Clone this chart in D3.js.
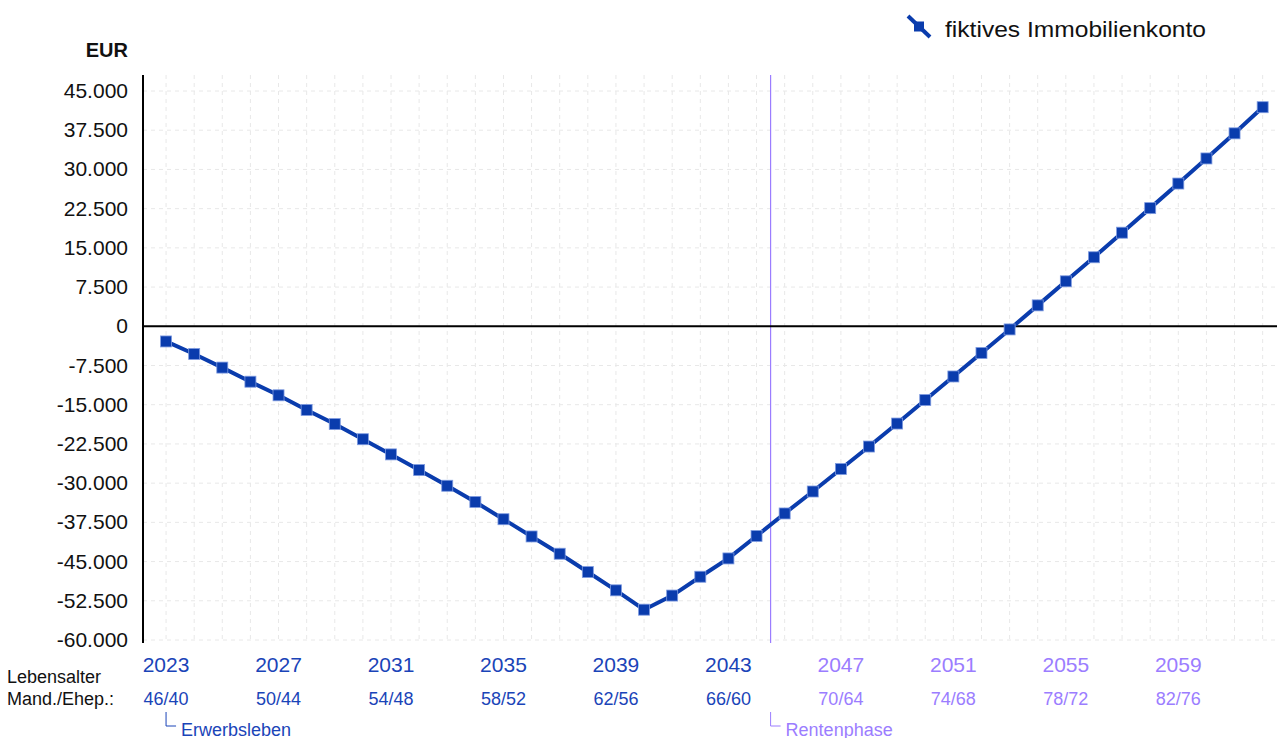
<!DOCTYPE html>
<html>
<head>
<meta charset="utf-8">
<script src="https://cdn.jsdelivr.net/npm/d3@7"></script>
<style>
  body { margin: 0; background: #fff; }
  svg text { font-family: "Liberation Sans", Arial, sans-serif; }
</style>
</head>
<body>
<svg id="chart" width="1277" height="738"></svg>
<script>
// years shown on the x axis
var years = d3.range(2023, 2063);

// fiktives Immobilienkonto, EUR per year
var kontoValues = [
    -2900, -5300, -7900, -10600, -13200, -16000, -18700, -21600, -24500, -27500,
    -30500, -33600, -36900, -40200, -43500, -47000, -50500, -54200, -51500, -47900,
    -44400, -40100, -35800, -31600, -27300, -23000, -18600, -14100, -9600, -5100,
    -600, 4000, 8600, 13200, 17900, 22600, 27300, 32100, 36900, 41900
];

// labelled years and ages (Mandant / Ehepartner)
var tickYears = [2023, 2027, 2031, 2035, 2039, 2043, 2047, 2051, 2055, 2059];
var ageLabels = ["46/40", "50/44", "54/48", "58/52", "62/56", "66/60", "70/64", "74/68", "78/72", "82/76"];

var yTicks = [45000, 37500, 30000, 22500, 15000, 7500, 0, -7500, -15000, -22500,
              -30000, -37500, -45000, -52500, -60000];

var retirementYear = 2044.5;

/***** Configuration *****/
var lineColor = "#0a3cad";
var blueText = "#1a44b8";
var purple = "#9b7dff";

var svg = d3.select("#chart");

/***** Scales *****/
var x = d3.scaleLinear().domain([2022.18, 2062.51]).range([143, 1277]);
var y = d3.scaleLinear().domain([-60000, 45000]).range([640, 91]);

// German thousands separator
function fmtThousands(v) {
    var a = Math.abs(v);
    var s = a >= 1000 ? Math.floor(a / 1000) + "." + d3.format("03d")(a % 1000) : String(a);
    return (v < 0 ? "-" : "") + s;
}

/***** Grid *****/
var grid = svg.append("g").attr("class", "grid");
grid.selectAll("line.h")
    .data(yTicks)
    .join("line")
    .attr("x1", 143).attr("x2", 1277)
    .attr("y1", d => y(d)).attr("y2", d => y(d))
    .attr("stroke", "#e8e8e8").attr("stroke-width", 1)
    .attr("stroke-dasharray", "4,4");
grid.selectAll("line.v")
    .data(years)
    .join("line")
    .attr("x1", d => x(d)).attr("x2", d => x(d))
    .attr("y1", 75).attr("y2", 643)
    .attr("stroke", "#e8e8e8").attr("stroke-width", 1)
    .attr("stroke-dasharray", "4,4");

/***** Y axis *****/
svg.selectAll("text.ytick")
    .data(yTicks)
    .join("text")
    .attr("class", "ytick")
    .attr("x", 128)
    .attr("y", d => y(d) + 7)
    .attr("text-anchor", "end")
    .attr("font-size", 21)
    .attr("fill", "#111")
    .text(d => d === 0 ? "0" : fmtThousands(d));

svg.append("text")
    .attr("x", 128).attr("y", 57)
    .attr("text-anchor", "end")
    .attr("font-size", 20).attr("font-weight", "bold")
    .attr("fill", "#111")
    .text("EUR");

// retirement marker line
svg.append("line")
    .attr("x1", x(retirementYear)).attr("x2", x(retirementYear))
    .attr("y1", 75).attr("y2", 643)
    .attr("stroke", purple).attr("stroke-width", 1.2);

// zero line and left axis
svg.append("line")
    .attr("x1", 143).attr("x2", 1277)
    .attr("y1", y(0)).attr("y2", y(0))
    .attr("stroke", "#000").attr("stroke-width", 2);
svg.append("line")
    .attr("x1", 143).attr("x2", 143)
    .attr("y1", 75).attr("y2", 643)
    .attr("stroke", "#000").attr("stroke-width", 2);

/***** Series *****/
var data = years.map((yr, i) => ({year: yr, value: kontoValues[i]}));
var line = d3.line().x(d => x(d.year)).y(d => y(d.value));

svg.append("path")
    .datum(data)
    .attr("d", line)
    .attr("fill", "none")
    .attr("stroke", lineColor)
    .attr("stroke-width", 4);

svg.selectAll("rect.pt")
    .data(data)
    .join("rect")
    .attr("class", "pt")
    .attr("x", d => x(d.year) - 5.5)
    .attr("y", d => y(d.value) - 5.5)
    .attr("width", 11).attr("height", 11)
    .attr("fill", lineColor)
    .attr("stroke", "#7f9be0").attr("stroke-width", 0.8);

/***** X labels *****/
svg.selectAll("text.year")
    .data(tickYears)
    .join("text")
    .attr("class", "year")
    .attr("x", d => x(d))
    .attr("y", 672)
    .attr("text-anchor", "middle")
    .attr("font-size", 21)
    .attr("fill", d => d > retirementYear ? purple : blueText)
    .text(d => d);

svg.selectAll("text.age")
    .data(tickYears)
    .join("text")
    .attr("class", "age")
    .attr("x", d => x(d))
    .attr("y", 705)
    .attr("text-anchor", "middle")
    .attr("font-size", 18)
    .attr("fill", d => d > retirementYear ? purple : blueText)
    .text((d, i) => ageLabels[i]);

svg.append("text")
    .attr("x", 7).attr("y", 683)
    .attr("font-size", 18).attr("fill", "#111")
    .text("Lebensalter");
svg.append("text")
    .attr("x", 7).attr("y", 705)
    .attr("font-size", 18).attr("fill", "#111")
    .text("Mand./Ehep.:");

// phase markers
var phases = [
    {label: "Erwerbsleben", at: years[0], color: blueText},
    {label: "Rentenphase", at: retirementYear, color: purple}
];
phases.forEach(function (p) {
    var px = x(p.at);
    svg.append("path")
        .attr("d", "M" + px + ",712V726H" + (px + 10))
        .attr("fill", "none")
        .attr("stroke", p.color).attr("stroke-width", 1);
    svg.append("text")
        .attr("x", px + 15).attr("y", 736)
        .attr("font-size", 18).attr("fill", p.color)
        .text(p.label);
});

/***** Legend *****/
var legend = svg.append("g");
legend.append("line")
    .attr("x1", 908).attr("y1", 16).attr("x2", 930).attr("y2", 37)
    .attr("stroke", lineColor).attr("stroke-width", 4);
legend.append("rect")
    .attr("x", 914).attr("y", 21.5).attr("width", 10).attr("height", 10)
    .attr("fill", lineColor);
legend.append("text")
    .attr("x", 945).attr("y", 37)
    .attr("font-size", 22).attr("fill", "#111")
    .attr("textLength", 261).attr("lengthAdjust", "spacingAndGlyphs")
    .text("fiktives Immobilienkonto");
</script>
</body>
</html>
